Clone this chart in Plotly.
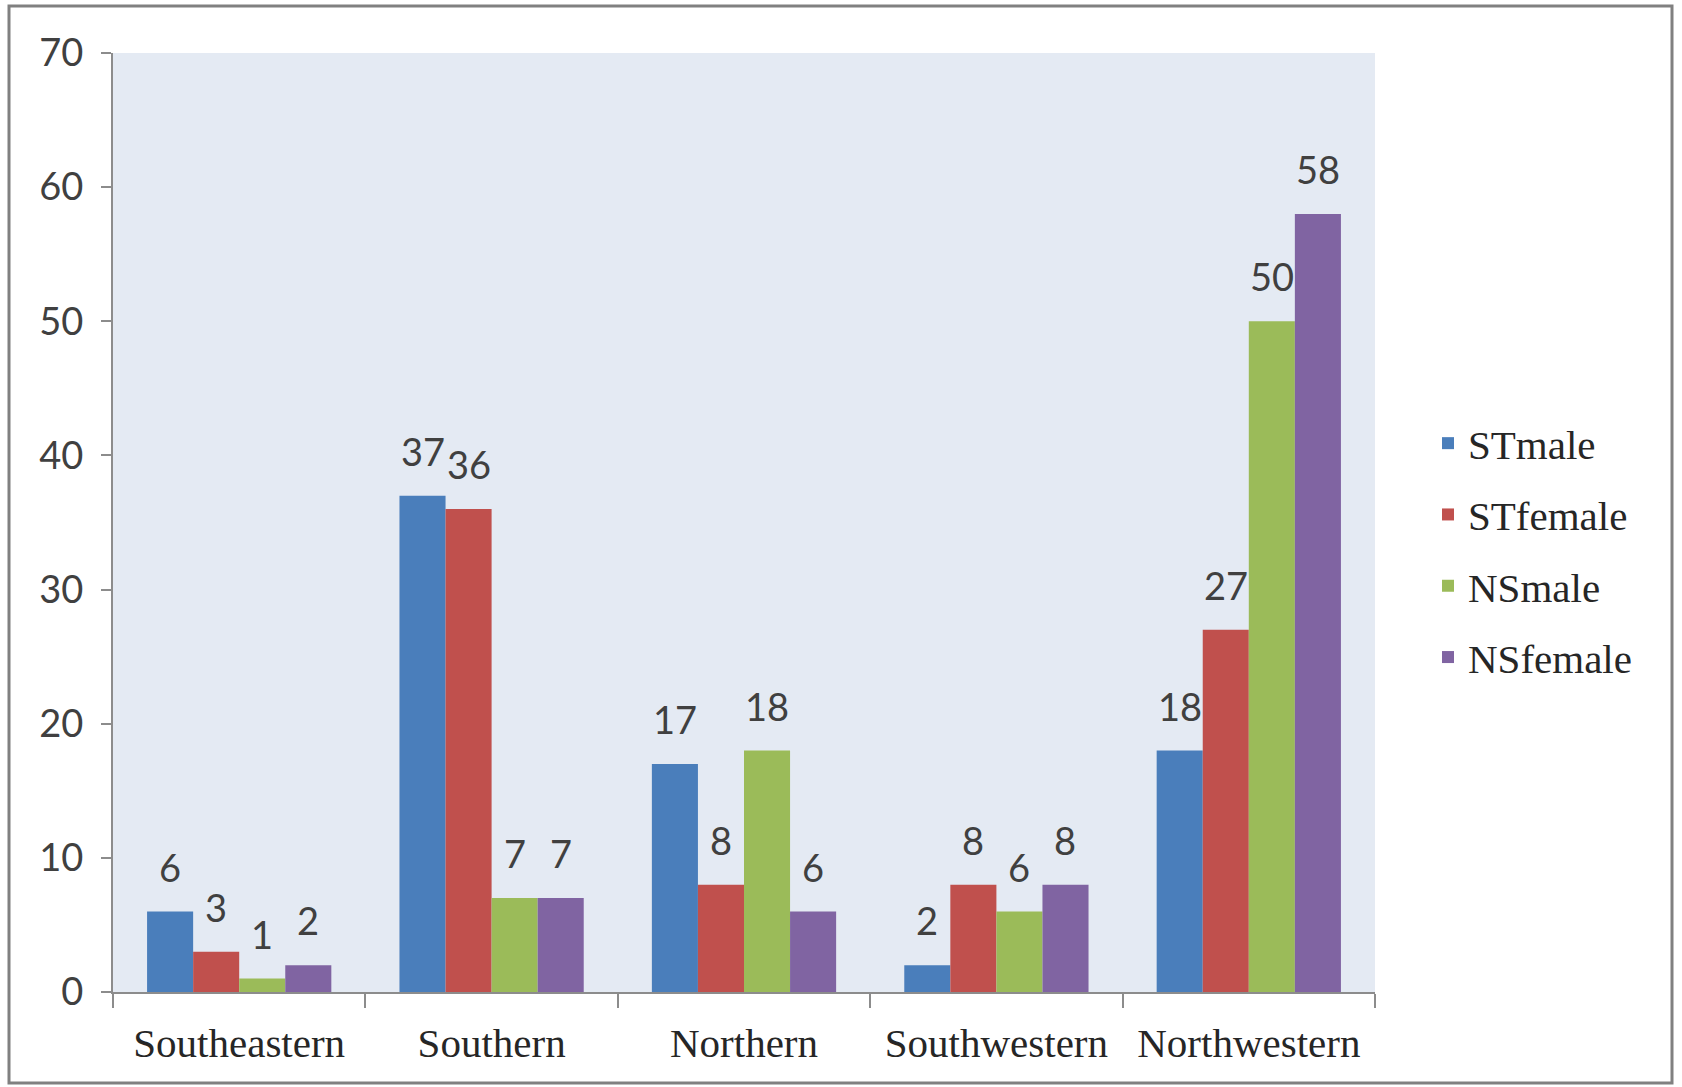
import plotly.graph_objects as go

# Regions and counts per group
regions = ["Southeastern", "Southern", "Northern", "Southwestern", "Northwestern"]
st_male = [6, 37, 17, 2, 18]
st_female = [3, 36, 8, 8, 27]
ns_male = [1, 7, 18, 6, 50]
ns_female = [2, 7, 6, 8, 58]

series_names = ["STmale", "STfemale", "NSmale", "NSfemale"]
series_values = [st_male, st_female, ns_male, ns_female]
series_colors = ["#4a7ebb", "#c0504d", "#9bbb59", "#8064a2"]

y_ticks = [0, 10, 20, 30, 40, 50, 60, 70]

BARGAP = 0.27
LABEL_FONT = dict(family="Lato, 'Open Sans', sans-serif", size=38, color="#404040")
SERIF_FONT = dict(family="'Liberation Serif', 'Times New Roman', serif", size=41, color="#262626")
AXIS_COLOR = "#8c8c8c"

fig = go.Figure()
for k, (name, vals, col) in enumerate(zip(series_names, series_values, series_colors)):
    fig.add_trace(go.Bar(
        name=name,
        x=regions,
        y=vals,
        marker=dict(color=col, line=dict(width=0)),
        legendgroup=name,
    ))

# Value labels above each bar, placed at the bar's slot within its group
n = len(series_names)
slot = (1 - BARGAP) / n
annotations = []
for k, vals in enumerate(series_values):
    for j, v in enumerate(vals):
        annotations.append(dict(
            x=j + (k - (n - 1) / 2) * slot,
            y=v,
            xref="x", yref="y",
            text=str(v),
            showarrow=False,
            yanchor="bottom",
            yshift=20,
            font=LABEL_FONT,
        ))

fig.update_layout(
    width=1682,
    height=1087,
    margin=dict(l=113, r=307, t=53, b=95),
    paper_bgcolor="white",
    plot_bgcolor="#e4eaf3",
    barmode="group",
    bargap=BARGAP,
    bargroupgap=0,
    showlegend=True,
    legend=dict(
        xref="container", yref="container",
        x=1428 / 1682, y=1 - 410 / 1087,
        xanchor="left", yanchor="top",
        font=SERIF_FONT,
        tracegroupgap=15,
        bgcolor="rgba(0,0,0,0)",
    ),
    annotations=annotations,
    shapes=[dict(
        type="rect", xref="paper", yref="paper",
        x0=(9 - 113) / 1262, x1=(1672 - 113) / 1262,
        y0=(992 - 1083) / 939, y1=(992 - 6) / 939,
        line=dict(color="#808080", width=3),
        layer="below",
    )],
    xaxis=dict(
        type="category",
        showgrid=False,
        showline=True, linecolor=AXIS_COLOR, linewidth=2,
        ticks="outside", tickson="boundaries", ticklen=14,
        tickcolor=AXIS_COLOR, tickwidth=2,
        tickfont=SERIF_FONT,
        ticklabelstandoff=14,
    ),
    yaxis=dict(
        range=[0, 70],
        tickvals=y_ticks,
        showgrid=False, zeroline=False,
        showline=True, linecolor=AXIS_COLOR, linewidth=2,
        ticks="outside", ticklen=10, tickcolor=AXIS_COLOR, tickwidth=2,
        tickfont=LABEL_FONT,
        ticklabelstandoff=10,
    ),
)

fig.write_html("out.html")
